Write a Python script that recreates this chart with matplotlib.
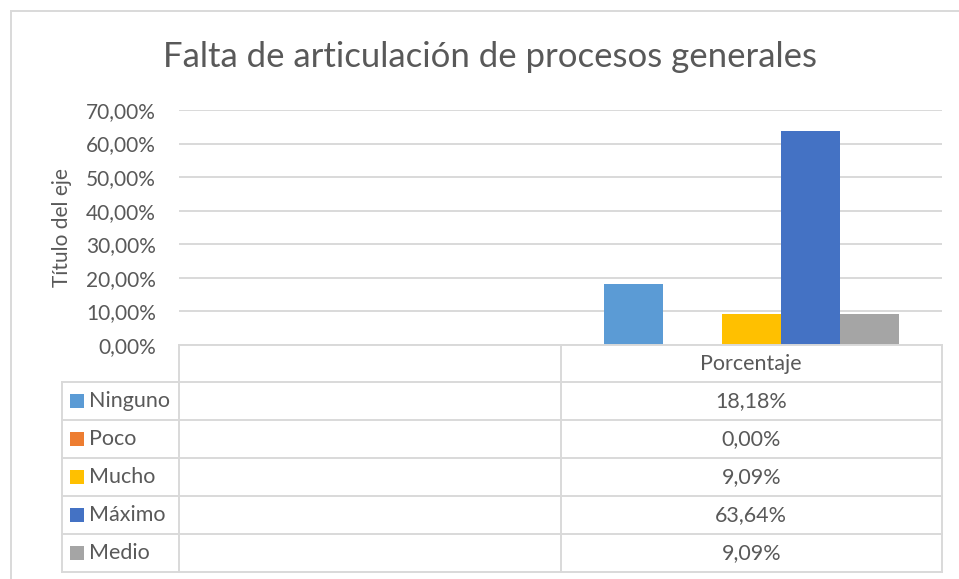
import matplotlib
matplotlib.use("Agg")
import matplotlib.pyplot as plt
from matplotlib.patches import Rectangle
from matplotlib.lines import Line2D

# ---------------- data ----------------
title = "Falta de articulación de procesos generales"
y_label = "Título del eje"
categories = ["", "Porcentaje"]
series_names = ["Ninguno", "Poco", "Mucho", "Máximo", "Medio"]
values = [18.18, 0.00, 9.09, 63.64, 9.09]          # percent, category "Porcentaje"
colors = ["#5B9BD5", "#ED7D31", "#FFC000", "#4472C4", "#A5A5A5"]
y_ticks = [0, 10, 20, 30, 40, 50, 60, 70]

# ---------------- layout helpers ----------------
W, H = 959, 579
plt.rcParams['font.family'] = ['Lato', 'DejaVu Sans']
TXT = "#595959"
GRID = "#D9D9D9"

fig = plt.figure(figsize=(W / 100, H / 100), dpi=100)
fig.patch.set_facecolor("white")


def fx(x):
    return x / W


def fy(y):
    return 1 - y / H


def hline(x0, x1, y, lw=1.4):
    fig.add_artist(Line2D([fx(x0), fx(x1)], [fy(y), fy(y)], transform=fig.transFigure,
                          color=GRID, lw=lw, solid_capstyle="projecting"))


def vline(x, y0, y1, lw=1.4):
    fig.add_artist(Line2D([fx(x), fx(x)], [fy(y0), fy(y1)], transform=fig.transFigure,
                          color=GRID, lw=lw, solid_capstyle="projecting"))


# outer chart border
fig.add_artist(Rectangle((fx(10.5), fy(600)), fx(970) - fx(10.5), fy(10.5) - fy(600),
                         transform=fig.transFigure, fill=False, edgecolor=GRID, lw=1.4))

ax_l, ax_r, ax_t, ax_b = 179, 942, 110, 345
ax = fig.add_axes([fx(ax_l), fy(ax_b), fx(ax_r) - fx(ax_l), fy(ax_t) - fy(ax_b)])
ax.set_facecolor("none")

n_cat = len(categories)
n_ser = len(series_names)
bar_w = 0.1547
for i, (name, v, c) in enumerate(zip(series_names, values, colors)):
    x = (n_cat - 1) + 0.5 + (i - (n_ser - 1) / 2) * bar_w
    ax.bar([x], [v], width=bar_w, color=c, zorder=3)

ax.set_xlim(0, n_cat)
ax.set_ylim(y_ticks[0], y_ticks[-1])
ax.set_yticks(y_ticks)
ax.set_yticklabels([f"{t:.2f}%".replace(".", ",") for t in y_ticks])
ax.tick_params(axis="y", length=0, pad=16.5, labelsize=15, labelcolor=TXT)
ax.set_xticks([])
for s in ax.spines.values():
    s.set_visible(False)
ax.yaxis.grid(True, color=GRID, lw=1.4, zorder=0)
ax.set_axisbelow(True)

# title and axis title
fig.text(fx(490), fy(57), title, ha="center", va="center", fontsize=25, color=TXT)
fig.text(fx(62), fy(228), y_label, ha="center", va="center", rotation=90,
         fontsize=15, color=TXT)

# ---------------- data table ----------------
# column boundaries from the axes' category scale
fig.canvas.draw()
bounds_px = []
for k in range(n_cat + 1):
    px = ax.transData.transform((k, 0))[0]
    bounds_px.append(px)

leg_l = 62
head_top, head_bot = 345, 382
row_h = 38
rows_y = [head_bot + r * row_h for r in range(n_ser + 1)]

hline(bounds_px[0], bounds_px[-1], head_top)
for y in rows_y:
    hline(leg_l, bounds_px[-1], y)
vline(leg_l, head_bot, rows_y[-1])
for bx in bounds_px:
    vline(bx, head_top, rows_y[-1])

FS = 15.5
# header
for k, cat in enumerate(categories):
    cx = (bounds_px[k] + bounds_px[k + 1]) / 2
    fig.text(fx(cx), fy((head_top + head_bot) / 2), cat, ha="center", va="center",
             fontsize=FS, color=TXT)

# rows
for r, (name, v, c) in enumerate(zip(series_names, values, colors)):
    yc = rows_y[r] + row_h / 2
    fig.add_artist(Rectangle((fx(70), fy(yc + 7)), fx(84) - fx(70), fy(yc - 7) - fy(yc + 7),
                             transform=fig.transFigure, facecolor=c, edgecolor="none"))
    fig.text(fx(89), fy(yc), name, ha="left", va="center", fontsize=FS, color=TXT)
    cx = (bounds_px[-2] + bounds_px[-1]) / 2
    fig.text(fx(cx), fy(yc), f"{v:.2f}%".replace(".", ","), ha="center", va="center",
             fontsize=FS, color=TXT)

fig.savefig("out.png", dpi=100)
